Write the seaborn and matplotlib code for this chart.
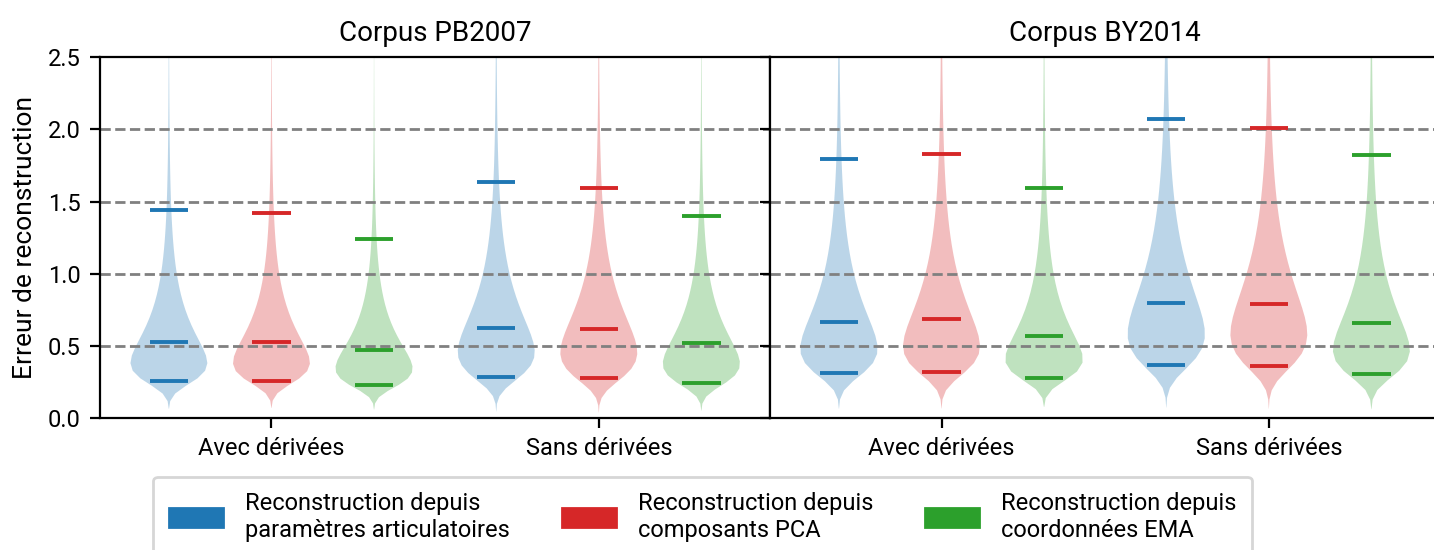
import seaborn as sns
import pandas as pd
import matplotlib.pyplot as plt
from matplotlib.patches import Patch
import numpy as np
from statistics import NormalDist

corpora = ["Corpus PB2007", "Corpus BY2014"]
conditions = ["Avec dérivées", "Sans dérivées"]
methods = ["Reconstruction depuis\nparamètres articulatoires",
           "Reconstruction depuis\ncomposants PCA",
           "Reconstruction depuis\ncoordonnées EMA"]
colors = ["#1f77b4", "#d62728", "#2ca02c"]

# quantiles: [corpus][condition][method]
q05 = [[[0.254, 0.257, 0.226], [0.282, 0.275, 0.242]],
       [[0.310, 0.319, 0.279], [0.367, 0.360, 0.305]]]
q50 = [[[0.528, 0.528, 0.469], [0.625, 0.618, 0.519]],
       [[0.665, 0.686, 0.568], [0.794, 0.787, 0.658]]]
q95 = [[[1.445, 1.424, 1.242], [1.634, 1.595, 1.399]],
       [[1.800, 1.833, 1.593], [2.075, 2.010, 1.826]]]

N_SAMPLES = 2000
Z95 = NormalDist().inv_cdf(0.95)
probs = (np.arange(N_SAMPLES) + 0.5) / N_SAMPLES
z_grid = np.array([NormalDist().inv_cdf(p) for p in probs])


def errors_from_quantiles(lo, med, hi):
    """shifted log-normal errors matching the 5/50/95 % quantiles"""
    r = (hi - med) / (med - lo)
    s = np.log(r) / Z95
    a = (hi - med) / (r - 1)
    return (med - a) + a * np.exp(s * z_grid)


def build_frame(k):
    rows = []
    for i, cond in enumerate(conditions):
        for j, meth in enumerate(methods):
            vals = errors_from_quantiles(q05[k][i][j], q50[k][i][j], q95[k][i][j])
            rows.append(pd.DataFrame({"condition": cond, "method": meth, "erreur": vals}))
    return pd.concat(rows, ignore_index=True)


plt.rcParams["font.family"] = ["Roboto", "DejaVu Sans"]

WIDTH = 0.94
GAP = 0.25

fig, axes = plt.subplots(1, 2, sharey=True, figsize=(7.17, 2.75), dpi=200)
fig.subplots_adjust(left=0.0697, right=1.0042, bottom=0.24, top=0.896, wspace=0)

for k, ax in enumerate(axes):
    df = build_frame(k)
    sns.violinplot(data=df, x="condition", y="erreur", hue="method",
                   order=conditions, hue_order=methods, palette=colors,
                   width=WIDTH, gap=GAP, density_norm="width", inner=None,
                   linewidth=0, saturation=1, alpha=0.3, bw_adjust=0.55,
                   legend=False, ax=ax)
    slot = WIDTH / len(methods)
    half = slot * (1 - GAP) / 4
    for i, cond in enumerate(conditions):
        for j, meth in enumerate(methods):
            x = i + (j - (len(methods) - 1) / 2) * slot
            vals = df.loc[(df.condition == cond) & (df.method == meth), "erreur"]
            qs = np.quantile(vals, [0.05, 0.5, 0.95])
            ax.hlines(qs, x - half, x + half, colors=colors[j], lw=1.4, zorder=3)
    for yv in [0.5, 1.0, 1.5, 2.0]:
        ax.axhline(yv, color="gray", ls="--", lw=1, zorder=2.5)
    ax.set_ylim(0, 2.5)
    ax.set_xlim(-0.524, 1.523)
    ax.set_yticks(np.arange(0, 2.51, 0.5))
    ax.set_xlabel("")
    ax.set_ylabel("")
    ax.set_title(corpora[k], fontsize=10)
    ax.tick_params(labelsize=8.5)

axes[0].set_ylabel("Erreur de reconstruction", fontsize=9.5)

handles = [Patch(color=c) for c in colors]
fig.legend(handles, methods, loc="upper center", bbox_to_anchor=(0.49, 0.155),
           ncol=3, fontsize=8.5, handlelength=2.3, handleheight=0.9,
           handletextpad=0.93, columnspacing=2.2, borderpad=0.65)

fig.savefig("out.png", dpi=200)
